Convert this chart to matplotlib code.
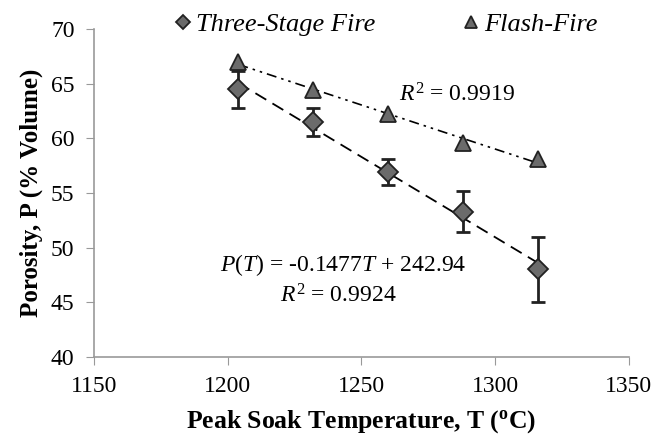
import matplotlib.pyplot as plt
import numpy as np

temps = [1204, 1232, 1260, 1288, 1316]
three_stage = [64.5, 61.5, 56.9, 53.3, 48.0]
three_stage_err = [1.7, 1.25, 1.2, 1.9, 3.0]
flash_fire = [67.0, 64.4, 62.2, 59.6, 58.1]

plt.rcParams['font.family'] = ['Liberation Serif', 'DejaVu Serif']
plt.rcParams['mathtext.fontset'] = 'custom'
plt.rcParams['mathtext.rm'] = 'Liberation Serif'
plt.rcParams['mathtext.it'] = 'Liberation Serif:italic'
plt.rcParams['mathtext.bf'] = 'Liberation Serif:bold'

fig = plt.figure(figsize=(6.55, 4.34), dpi=100)
ax = fig.add_axes([0.1435, 0.178, 0.8165, 0.7545])

x = np.array(temps)
xl = np.linspace(x.min(), x.max(), 50)

# trendlines
p1 = np.polyfit(x, three_stage, 1)
p2 = np.polyfit(x, flash_fire, 1)
ax.plot(xl, np.polyval(p1, xl), color='black', lw=1.3, dashes=(7, 4), zorder=2)
ax.plot(xl, np.polyval(p2, xl), color='black', lw=1.2, dashes=(6, 3, 1.5, 3, 1.5, 3), zorder=2)

ax.errorbar(temps, three_stage, yerr=three_stage_err, fmt='none', ecolor='#222222',
            elinewidth=2, capsize=5, capthick=2, zorder=3)
ax.plot(temps, three_stage, 'D', ms=10, mfc='#6b6b6b', mec='#222222', mew=1.3, ls='none', zorder=4,
        label='Three-Stage Fire')
ax.plot(temps, flash_fire, '^', ms=12, mfc='#6b6b6b', mec='#222222', mew=1.3, ls='none', zorder=4,
        label='Flash-Fire')

ax.set_xlim(1150, 1350)
ax.set_ylim(40, 70)
ax.set_xticks([1150, 1200, 1250, 1300, 1350])
ax.set_yticks([40, 45, 50, 55, 60, 65, 70])
ax.tick_params(labelsize=17, direction='out', length=6, color='#999999', pad=8)
for s in ['top', 'right']:
    ax.spines[s].set_visible(False)
for s in ['left', 'bottom']:
    ax.spines[s].set_color('#999999')
    ax.spines[s].set_linewidth(1.2)

ax.set_xlabel('Peak Soak Temperature, T ($\\mathbf{^{o}}$C)', fontsize=18.5, fontweight='bold', labelpad=8)
ax.set_ylabel('Porosity, P (% Volume)', fontsize=18, fontweight='bold', labelpad=6)

ax.text(1264, 64.0, '$R^2$ = 0.9919', fontsize=17, ha='left', va='center')
ax.text(1197, 48.4, '$P(T)$ = -0.1477$T$ + 242.94', fontsize=17, ha='left', va='center')
ax.text(1219.5, 45.6, '$R^2$ = 0.9924', fontsize=17, ha='left', va='center')

leg = fig.legend(loc='upper center', bbox_to_anchor=(0.5855, 1.025), ncol=2, frameon=False,
                 prop={'size': 19, 'style': 'italic'}, handletextpad=0.0, columnspacing=3.1,
                 handlelength=1.0, markerscale=0.75)

fig.savefig('out.png', dpi=100)
